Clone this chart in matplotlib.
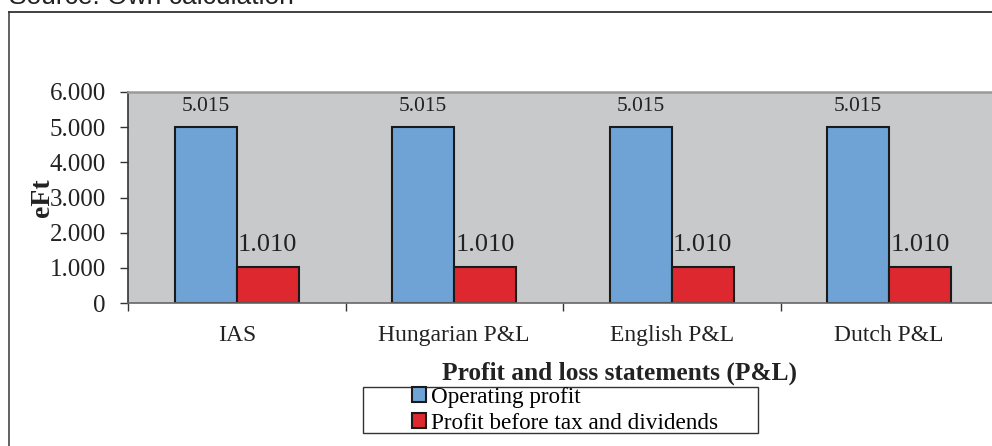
import numpy as np
import matplotlib.pyplot as plt
from matplotlib.patches import Rectangle
from matplotlib.ticker import FuncFormatter

# --- data ---
categories = ['IAS', 'Hungarian P&L', 'English P&L', 'Dutch P&L']
operating_profit = [5015, 5015, 5015, 5015]
profit_before_tax = [1010, 1010, 1010, 1010]
series_names = ['Operating profit', 'Profit before tax and dividends']

W, H = 992, 446
plt.rcParams['font.family'] = ['Liberation Serif', 'DejaVu Serif']

fig = plt.figure(figsize=(W / 100, H / 100), dpi=100)

# outer frame (cut by the image edges on right and bottom)
fig.add_artist(plt.Line2D([9 / W, 9 / W], [0, 1 - 11.5 / H], color='#555555', lw=1.3))
fig.add_artist(plt.Line2D([9 / W, 1], [1 - 11.5 / H, 1 - 11.5 / H], color='#333333', lw=1.3))

fig.text(9 / W, 1 - 4 / H, 'Source: Own calculation', family='Liberation Sans',
         fontsize=19, va='baseline', ha='left', color='#222222')

ax = fig.add_axes([128 / W, 1 - 303 / H, 870 / W, 211 / H])
ax.set_facecolor('#c8c9cb')

x = np.arange(len(categories))
bw = 0.285
b1 = ax.bar(x - bw / 2, operating_profit, bw, color='#6fa3d6', edgecolor='#1a1a1a', linewidth=1.5)
b2 = ax.bar(x + bw / 2, profit_before_tax, bw, color='#de2830', edgecolor='#1a1a1a', linewidth=1.5)

fmt = lambda v: f'{v:,.0f}'.replace(',', '.')
for r, v in zip(b1, operating_profit):
    ax.annotate(fmt(v), (r.get_x() + r.get_width() / 2, v), xytext=(0, 7.5),
                textcoords='offset points', ha='center', va='bottom', fontsize=15.5, color='#222222')
for r, v in zip(b2, profit_before_tax):
    ax.annotate(fmt(v), (r.get_x() + r.get_width() / 2, v), xytext=(0, 8),
                textcoords='offset points', ha='center', va='bottom', fontsize=19, color='#222222')

ax.set_xlim(-0.5, len(categories) - 0.5)
ax.set_ylim(0, 6000)
ax.set_yticks(np.arange(0, 6001, 1000))
ax.yaxis.set_major_formatter(FuncFormatter(lambda v, p: fmt(v)))
ax.tick_params(axis='y', length=6, width=1, color='#333333', labelsize=18, pad=10, labelcolor='#222222')
ax.set_xticks(x)
ax.set_xticklabels(categories)
ax.set_xticks(np.arange(-0.5, len(categories) - 0.5, 1), minor=True)
ax.tick_params(axis='x', which='major', length=0, labelsize=17, pad=16, labelcolor='#222222')
ax.tick_params(axis='x', which='minor', length=6, width=1, color='#333333')

ax.spines['left'].set_color('#333333')
ax.spines['bottom'].set_color('#666666')
ax.spines['top'].set_color('#9a9a9a')
ax.spines['top'].set_linewidth(1.8)
ax.spines['right'].set_visible(False)
for s in ['left', 'bottom']:
    ax.spines[s].set_linewidth(1.2)

fig.text(43 / W, 1 - 198 / H, 'eFt', rotation=90, fontsize=20, fontweight='bold',
         ha='center', va='center', color='#222222')
fig.text(620 / W, 1 - 373 / H, 'Profit and loss statements (P&L)', fontsize=18.3,
         fontweight='bold', ha='center', va='center', color='#222222')

# legend box
fig.add_artist(Rectangle((363 / W, 1 - 433 / H), 395 / W, 46 / H, transform=fig.transFigure,
                         facecolor='white', edgecolor='#333333', lw=1.0))
leg = fig.legend([b1, b2], series_names, loc='upper left',
                 bbox_to_anchor=(412 / W, 1 - 387 / H), frameon=False,
                 fontsize=16.7, handlelength=0.6, handleheight=0.6, handletextpad=0.2,
                 labelspacing=0.2, borderpad=0, borderaxespad=0)

fig.savefig('out.png', dpi=100)
